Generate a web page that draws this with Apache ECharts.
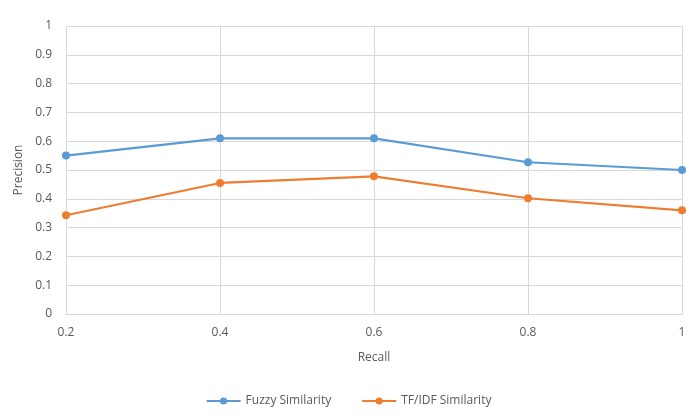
<!DOCTYPE html>
<html>
<head>
<meta charset="utf-8">
<script src="https://cdn.jsdelivr.net/npm/echarts@6/dist/echarts.min.js"></script>
<style>
html, body { margin: 0; padding: 0; background: #fff; }
#chart { width: 697px; height: 416px; }
</style>
</head>
<body>
<div id="chart"></div>
<script>
// Recall levels on the x axis
var recall = ['0.2', '0.4', '0.6', '0.8', '1'];
// Precision at each recall level
var fuzzySimilarity = [0.55, 0.61, 0.61, 0.527, 0.5];
var tfidfSimilarity = [0.343, 0.455, 0.478, 0.402, 0.36];

var fontFamily = '"Open Sans", "Liberation Sans", sans-serif';
var textColor = '#595959';
var gridColor = '#d9d9d9';

var chart = echarts.init(document.getElementById('chart'));
chart.setOption({
  animation: false,
  textStyle: { fontFamily: fontFamily },
  grid: { left: 66, right: 15, top: 26, bottom: 102 },
  legend: {
    bottom: 4,
    left: 'center',
    itemGap: 30,
    itemWidth: 34,
    itemHeight: 9,
    textStyle: { color: textColor, fontSize: 12, fontFamily: fontFamily },
    data: ['Fuzzy Similarity', 'TF/IDF Similarity']
  },
  xAxis: {
    type: 'category',
    data: recall,
    boundaryGap: false,
    name: 'Recall',
    nameLocation: 'middle',
    nameGap: 38,
    nameTextStyle: { color: textColor, fontSize: 12 },
    axisLine: { lineStyle: { color: gridColor, width: 1 } },
    axisTick: { show: false },
    axisLabel: { color: textColor, fontSize: 12, margin: 13 },
    splitLine: { show: true, lineStyle: { color: gridColor, width: 1 } }
  },
  yAxis: {
    type: 'value',
    min: 0,
    max: 1,
    interval: 0.1,
    name: 'Precision',
    nameLocation: 'middle',
    nameGap: 36,
    nameTextStyle: { color: textColor, fontSize: 12 },
    axisLine: { show: false },
    axisTick: { show: false },
    axisLabel: {
      color: textColor,
      fontSize: 12,
      margin: 14,
      formatter: function (v) { return String(Math.round(v * 10) / 10); }
    },
    splitLine: { lineStyle: { color: gridColor, width: 1 } }
  },
  series: [
    {
      name: 'Fuzzy Similarity',
      type: 'line',
      data: fuzzySimilarity,
      symbol: 'circle',
      symbolSize: 8,
      lineStyle: { width: 2.2, color: '#5b9bd5' },
      itemStyle: { color: '#5b9bd5' }
    },
    {
      name: 'TF/IDF Similarity',
      type: 'line',
      data: tfidfSimilarity,
      symbol: 'circle',
      symbolSize: 8,
      lineStyle: { width: 2.2, color: '#ed7d31' },
      itemStyle: { color: '#ed7d31' }
    }
  ]
});
</script>
</body>
</html>
